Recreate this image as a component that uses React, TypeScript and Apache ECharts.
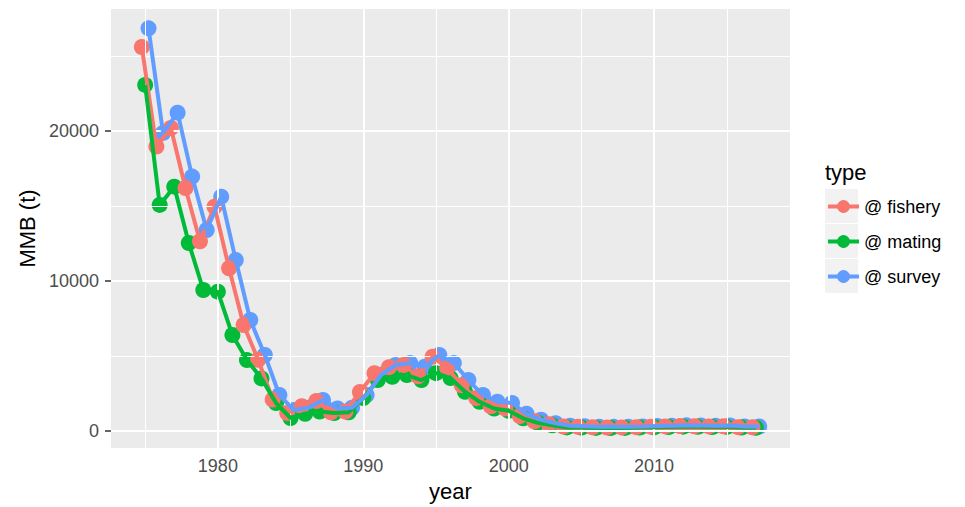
import React, { useEffect, useRef } from "react";
import * as echarts from "echarts";

const years = [1975, 1976, 1977, 1978, 1979, 1980, 1981, 1982, 1983, 1984, 1985, 1986, 1987, 1988, 1989, 1990, 1991, 1992, 1993, 1994, 1995, 1996, 1997, 1998, 1999, 2000, 2001, 2002, 2003, 2004, 2005, 2006, 2007, 2008, 2009, 2010, 2011, 2012, 2013, 2014, 2015, 2016, 2017];

const fishery = [25600, 18960, 20200, 16200, 12650, 14950, 10850, 7070, 4750, 2100, 1200, 1650, 2000, 1250, 1300, 2600, 3850, 4250, 4400, 3650, 4950, 4200, 3050, 2200, 1650, 1500, 1000, 650, 450, 300, 280, 250, 230, 240, 260, 290, 310, 330, 320, 310, 320, 260, 250];
const mating = [23070, 15070, 16290, 12530, 9400, 9290, 6400, 4730, 3510, 1870, 870, 1150, 1300, 1200, 1250, 2200, 3400, 3620, 3730, 3400, 3860, 3530, 2620, 1950, 1500, 1350, 850, 550, 380, 240, 230, 210, 200, 210, 230, 250, 270, 290, 280, 270, 280, 230, 220];
const survey = [26840, 19870, 21220, 16960, 13400, 15620, 11400, 7400, 5070, 2400, 1400, 1550, 2070, 1500, 1550, 2400, 3750, 4400, 4530, 4290, 5070, 4530, 3400, 2400, 1950, 1870, 1150, 750, 520, 350, 320, 290, 280, 290, 310, 340, 360, 380, 370, 360, 370, 310, 300];

const seriesNames = ["@ fishery", "@ mating", "@ survey"];
const seriesColors = ["#F8766D", "#00BA38", "#619CFF"];
// horizontal dodge (in years) of each group, as in the original plot
const dodge = [-0.23, 0, 0.23];

const xMajor = [1980, 1990, 2000, 2010];
const xMinor = [1975, 1985, 1995, 2005, 2015];
const yMajor = [0, 10000, 20000];
const yMinor = [5000, 15000, 25000];

const FONT = "Liberation Sans, Arial, Helvetica, sans-serif";

export default function App() {
  const ref = useRef<HTMLDivElement>(null);
  useEffect(() => {
    if (!ref.current) return;
    const chart = echarts.init(ref.current, null, { renderer: "svg" });
    const values = [fishery, mating, survey];
    const gridMarks: any[] = [];
    xMinor.forEach((v) => gridMarks.push({ xAxis: v, lineStyle: { color: "#FFFFFF", width: 1, type: "solid" } }));
    yMinor.forEach((v) => gridMarks.push({ yAxis: v, lineStyle: { color: "#FFFFFF", width: 1, type: "solid" } }));
    xMajor.forEach((v) => gridMarks.push({ xAxis: v, lineStyle: { color: "#FFFFFF", width: 2, type: "solid" } }));
    yMajor.forEach((v) => gridMarks.push({ yAxis: v, lineStyle: { color: "#FFFFFF", width: 2, type: "solid" } }));

    const pts = values.map((vals, i) => years.map((y, j) => [y + dodge[i], vals[j]]));

    const series: any[] = [
      {
        name: "grid",
        type: "line",
        data: [],
        silent: true,
        z: 1,
        markLine: {
          silent: true,
          symbol: ["none", "none"],
          label: { show: false },
          animation: false,
          data: gridMarks,
        },
      },
    ];
    // lines (legend source), drawn above all points
    values.forEach((_, i) => {
      series.push({
        name: seriesNames[i],
        type: "line",
        z: 5 + i,
        data: pts[i],
        symbol: "circle",
        symbolSize: 16,
        showSymbol: false,
        color: seriesColors[i],
        itemStyle: { color: seriesColors[i] },
        lineStyle: { color: seriesColors[i], width: 4 },
      });
    });
    // points, survey at bottom, fishery on top
    values.forEach((_, i) => {
      series.push({
        name: seriesNames[i],
        type: "scatter",
        z: 4 - i,
        data: pts[i],
        symbol: "circle",
        symbolSize: 16,
        itemStyle: { color: seriesColors[i], opacity: 1 },
      });
    });

    chart.setOption({
      animation: false,
      backgroundColor: "#FFFFFF",
      textStyle: { fontFamily: FONT },
      title: {
        text: "type",
        left: 825,
        top: 161,
        padding: 0,
        textStyle: { fontFamily: FONT, fontSize: 22, fontWeight: "normal", color: "#000000", lineHeight: 22 },
      },
      legend: {
        data: seriesNames,
        orient: "vertical",
        left: 826,
        top: 197.5,
        padding: 0,
        itemWidth: 31,
        itemHeight: 16,
        itemGap: 17,
        lineStyle: { width: 4 },
        textStyle: { fontFamily: FONT, fontSize: 18, lineHeight: 18, color: "#000000" },
        selectedMode: false,
      },
      graphic: [
        { type: "rect", z: -1, shape: { x: 825, y: 189, width: 33, height: 34 }, style: { fill: "#F2F2F2" } },
        { type: "rect", z: -1, shape: { x: 825, y: 224, width: 33, height: 34 }, style: { fill: "#F2F2F2" } },
        { type: "rect", z: -1, shape: { x: 825, y: 259, width: 33, height: 34 }, style: { fill: "#F2F2F2" } },
      ],
      grid: {
        left: 111,
        right: 175,
        top: 9,
        bottom: 59,
        show: true,
        backgroundColor: "#EBEBEB",
        borderWidth: 0,
        containLabel: false,
      },
      xAxis: {
        type: "value",
        min: 1972.65,
        max: 2019.35,
        name: "year",
        nameLocation: "middle",
        nameGap: 32,
        nameTextStyle: { fontFamily: FONT, fontSize: 22, color: "#000000" },
        axisLine: { show: false },
        axisTick: { show: true, length: 5, customValues: xMajor, lineStyle: { color: "#333333", width: 1.5 } },
        axisLabel: {
          customValues: xMajor,
          margin: 9,
          fontSize: 18,
          color: "#4D4D4D",
          fontFamily: FONT,
          formatter: (v: number) => String(v),
        },
        splitLine: { show: false },
      },
      yAxis: {
        type: "value",
        min: -1130,
        max: 28130,
        name: "MMB (t)",
        nameLocation: "middle",
        nameGap: 73,
        nameRotate: 90,
        nameTextStyle: { fontFamily: FONT, fontSize: 22, color: "#000000" },
        axisLine: { show: false },
        axisTick: { show: true, length: 6, customValues: yMajor, lineStyle: { color: "#333333", width: 1.5 } },
        axisLabel: {
          customValues: yMajor,
          margin: 12,
          fontSize: 18,
          color: "#4D4D4D",
          fontFamily: FONT,
          formatter: (v: number) => String(v),
        },
        splitLine: { show: false },
      },
      series,
    });
    return () => chart.dispose();
  }, []);
  return <div ref={ref} style={{ position: "absolute", left: 0, top: 0, width: 965, height: 507 }} />;
}
